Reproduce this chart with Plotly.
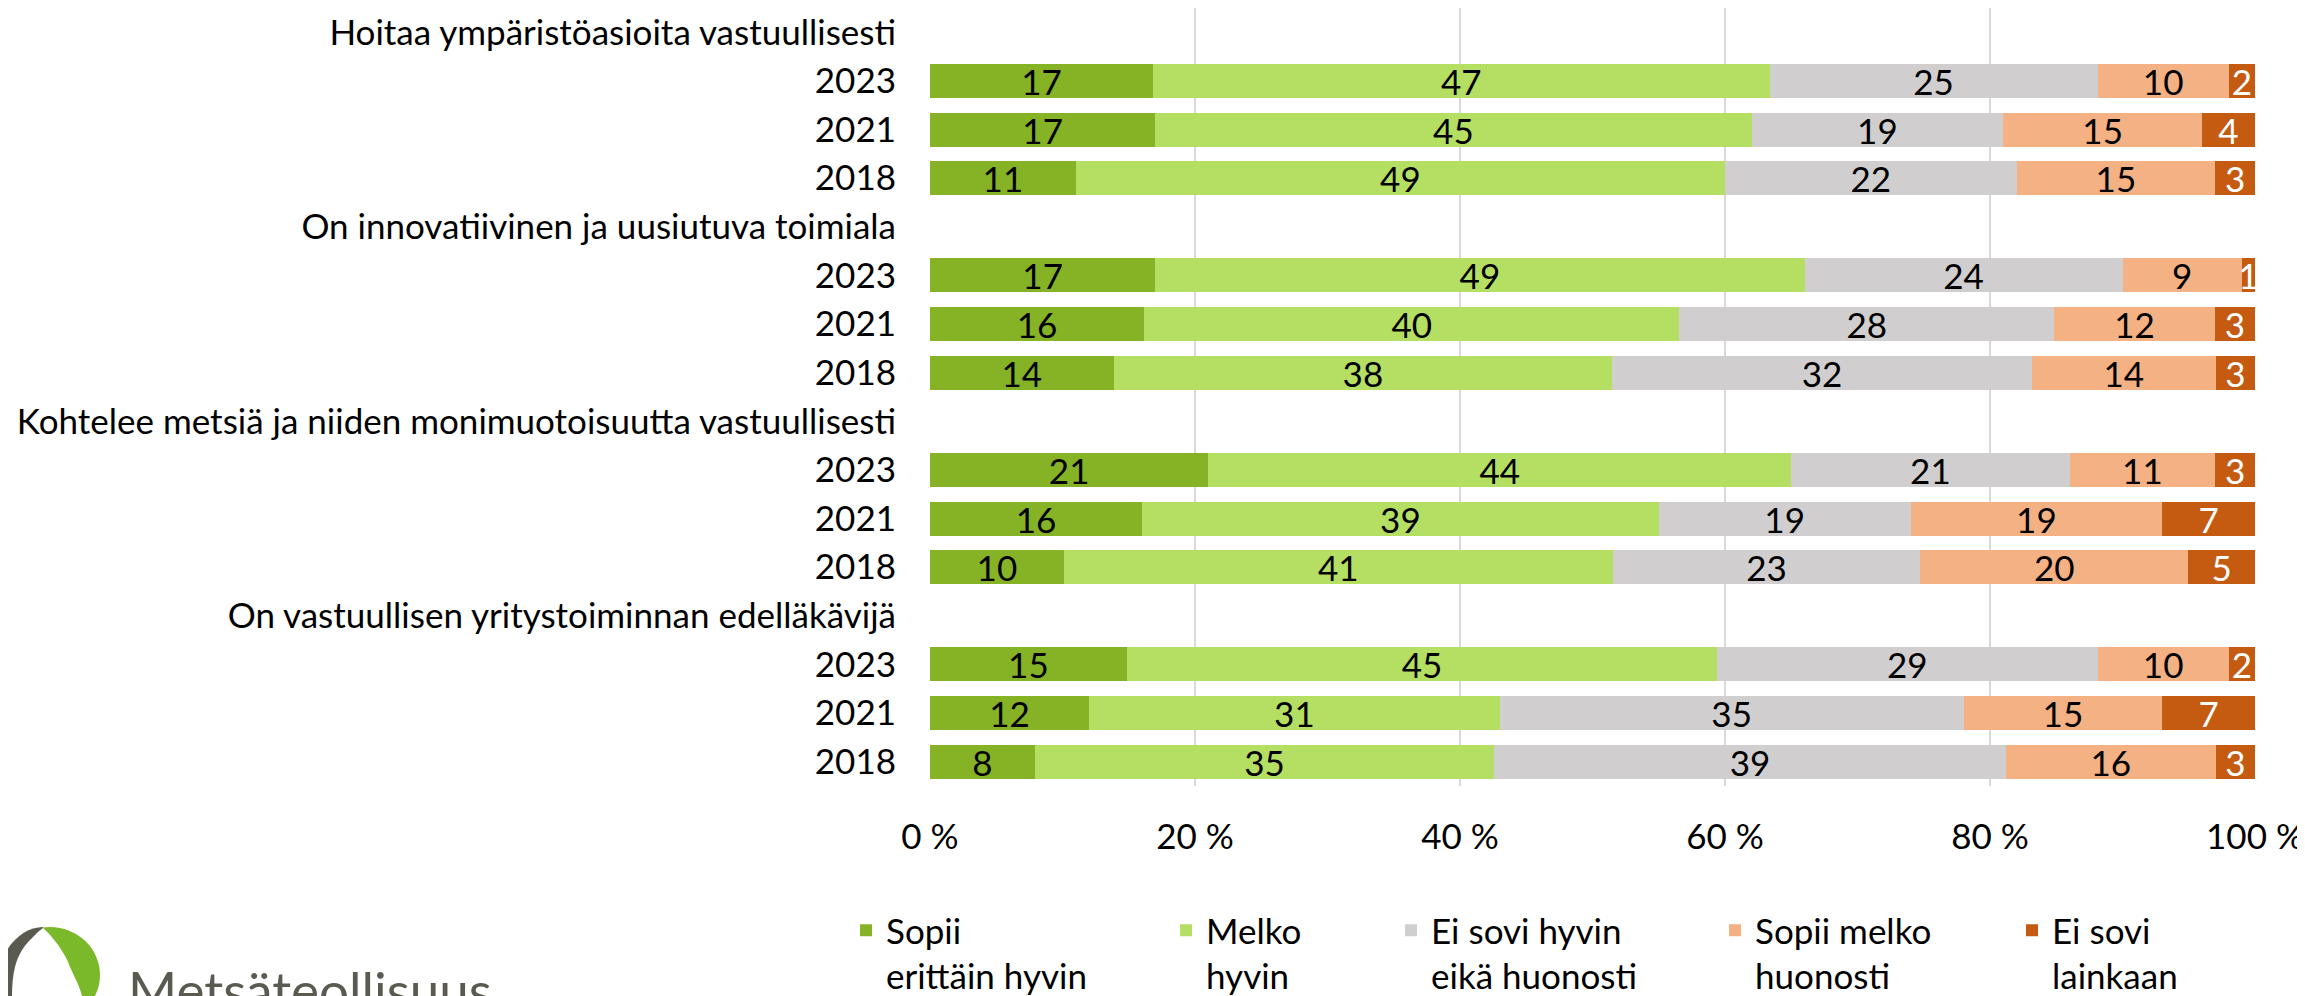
import plotly.graph_objects as go

# ---------------- data ----------------
statements = [
    "Hoitaa ympäristöasioita vastuullisesti",
    "On innovatiivinen ja uusiutuva toimiala",
    "Kohtelee metsiä ja niiden monimuotoisuutta vastuullisesti",
    "On vastuullisen yritystoiminnan edelläkävijä",
]
years = ["2023", "2021", "2018"]

series_names = [
    "Sopii<br>erittäin hyvin",
    "Melko<br>hyvin",
    "Ei sovi hyvin<br>eikä huonosti",
    "Sopii melko<br>huonosti",
    "Ei sovi<br>lainkaan",
]
sopii_erittain_hyvin = [17, 17, 11, 17, 16, 14, 21, 16, 10, 15, 12, 8]
melko_hyvin = [47, 45, 49, 49, 40, 38, 44, 39, 41, 45, 31, 35]
ei_sovi_hyvin_eika_huonosti = [25, 19, 22, 24, 28, 32, 21, 19, 23, 29, 35, 39]
sopii_melko_huonosti = [10, 15, 15, 9, 12, 14, 11, 19, 20, 10, 15, 16]
ei_sovi_lainkaan = [2, 4, 3, 1, 3, 3, 3, 7, 5, 2, 7, 3]

x_tick_values = [0, 20, 40, 60, 80, 100]
x_tick_labels = ["0 %", "20 %", "40 %", "60 %", "80 %", "100 %"]

# ---------------- styling ----------------
colors = ["#86B326", "#B4DF62", "#D0CECE", "#F4B183", "#C55A11"]
text_colors = ["#000000", "#000000", "#000000", "#000000", "#FFFFFF"]
FONT = "Lato, 'Open Sans', sans-serif"
FS = 35

# the page body has an 8px margin: figure is drawn from page (8, 8)
OFF = 8
W, H = 2305 - OFF, 996 - OFF
PLOT_L, PLOT_R, PLOT_T, PLOT_B = 930, 2255, 8, 786  # page coordinates
ML, MR = PLOT_L - OFF, 2305 - PLOT_R
MT, MB = PLOT_T - OFF, 996 - PLOT_B
PW, PH = W - ML - MR, H - MT - MB


def px(x):
    return (x - OFF - ML) / PW


def py(y):
    return (H - MB - (y - OFF)) / PH


# build rows: header rows (no bar) + year rows
labels = []
row_data_index = []
k = 0
for s in statements:
    labels.append(s)
    row_data_index.append(None)
    for yv in years:
        labels.append(yv)
        row_data_index.append(k)
        k += 1
positions = list(range(len(labels)))

all_series = [sopii_erittain_hyvin, melko_hyvin, ei_sovi_hyvin_eika_huonosti,
              sopii_melko_huonosti, ei_sovi_lainkaan]

fig = go.Figure()
legend_ids = ["legend", "legend2", "legend3", "legend4", "legend5"]
for i, (name, vals) in enumerate(zip(series_names, all_series)):
    xs = [None if idx is None else vals[idx] for idx in row_data_index]
    txt = ["" if idx is None else str(vals[idx]) for idx in row_data_index]
    fig.add_trace(go.Bar(
        y=positions, x=xs, name=name, orientation="h",
        marker=dict(color=colors[i], line=dict(width=0)),
        text=txt, textposition="inside", insidetextanchor="middle",
        textangle=0, constraintext="none",
        textfont=dict(family=FONT, size=FS, color=text_colors[i]),
        legend=legend_ids[i],
    ))

layout = dict(
    width=W, height=H,
    margin=dict(l=ML, r=MR, t=MT, b=MB, pad=0, autoexpand=False),
    paper_bgcolor="white", plot_bgcolor="white",
    barmode="stack", barnorm="percent", bargap=0.3,
    font=dict(family=FONT, size=FS, color="#000000"),
    xaxis=dict(range=[0, 100], tickvals=x_tick_values, ticktext=x_tick_labels,
               showgrid=True, gridcolor="#D9D9D9", gridwidth=2,
               zeroline=False, showline=False, automargin=False,
               ticks="outside", ticklen=20, tickcolor="rgba(0,0,0,0)",
               tickfont=dict(family=FONT, size=FS, color="#000000")),
    yaxis=dict(range=[len(labels) - 0.5, -0.5], tickvals=positions, ticktext=labels,
               showgrid=False, zeroline=False, showline=False, automargin=False,
               ticks="outside", ticklen=26, tickcolor="rgba(0,0,0,0)",
               tickfont=dict(family=FONT, size=FS, color="#000000")),
    showlegend=True,
)

legend_x = [846, 1166, 1391, 1715, 2012]  # page coordinates
for lid, lx in zip(legend_ids, legend_x):
    layout[lid] = dict(x=px(lx), xref="paper", y=1 - (901 - OFF) / H, yref="container",
                       xanchor="left", yanchor="top",
                       orientation="v", valign="top", bgcolor="rgba(0,0,0,0)",
                       font=dict(family=FONT, size=FS, color="#000000"),
                       itemclick=False, itemdoubleclick=False)

fig.update_layout(**layout)

# ---------------- logo (bottom-left) ----------------
k_ = 0.5523
cx, cy, rx, ry = 50, 975, 50, 48
tipx, tipy = 43, 927


def P(x, y):
    return f"{px(x):.5f},{py(y):.5f}"


# full ellipse (green)
fig.add_shape(type="circle", xref="paper", yref="paper",
              x0=px(cx - rx), x1=px(cx + rx), y0=py(cy + ry), y1=py(cy - ry),
              fillcolor="#7AB929", line=dict(width=0), layer="above")
# left part (dark grey)
left_path = (f"M {P(tipx, tipy)} "
             f"C {P(cx - k_ * rx, cy - ry)} {P(cx - rx, cy - k_ * ry)} {P(cx - rx, cy)} "
             f"C {P(cx - rx, cy + k_ * ry)} {P(cx - k_ * rx, cy + ry)} {P(tipx, cy + ry)} Z")
fig.add_shape(type="path", xref="paper", yref="paper", path=left_path,
              fillcolor="#5B5A50", line=dict(width=0), layer="above")
# white drop
drop_path = (f"M {P(tipx, tipy + 1)} "
             f"C {P(52, 936)} {P(65, 952)} {P(70, 967)} "
             f"C {P(75, 978)} {P(80, 987)} {P(82, 996)} "
             f"L {P(85, 1030)} L {P(12, 1030)} L {P(12, 996)} "
             f"C {P(12, 985)} {P(13, 975)} {P(15, 967)} "
             f"C {P(18, 955)} {P(24, 946)} {P(30, 940)} "
             f"C {P(35, 935)} {P(40, 930)} {P(tipx, tipy + 1)} Z")
fig.add_shape(type="path", xref="paper", yref="paper", path=drop_path,
              fillcolor="#FFFFFF", line=dict(width=0), layer="above")

fig.add_annotation(text="Metsäteollisuus", xref="paper", yref="paper",
                   x=px(126), y=py(956), xanchor="left", yanchor="top",
                   showarrow=False,
                   font=dict(family=FONT, size=53, color="#5B5A50"))

fig.write_html("out.html")
